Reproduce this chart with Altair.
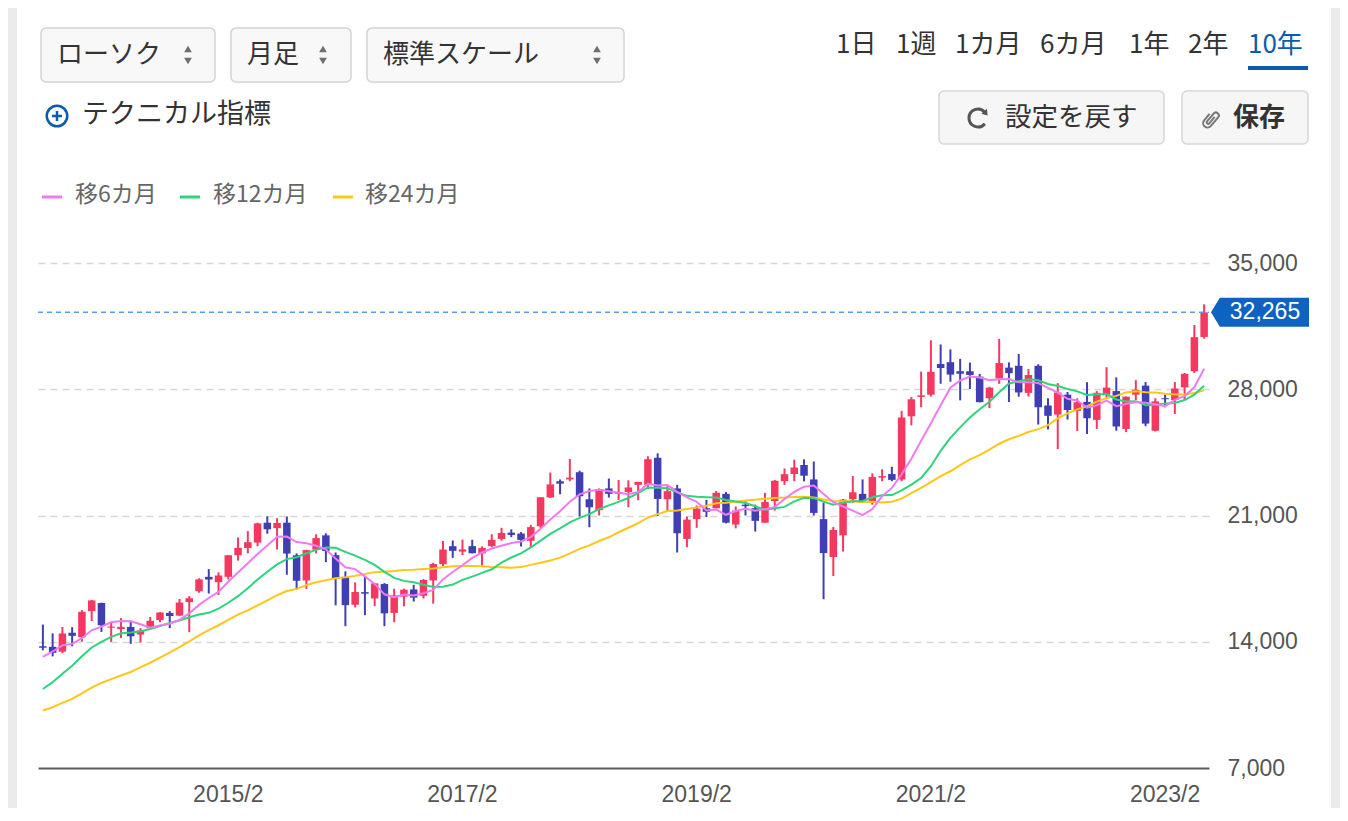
import altair as alt
import pandas as pd

# ---------------- layout (page pixel coordinates) ----------------
PX0, PY0 = 38, 263          # plot origin on the page
W, H = 1171, 505            # plot area

def px(x):
    return x - PX0

def py(y):
    return y - PY0

JP = "Noto Sans CJK JP"
NUM = "Liberation Sans"
UP = "#f5385f"
DOWN = "#3f3fb3"
C6 = "#f07af0"
C12 = "#2fd37c"
C24 = "#ffc61a"

# ---------------- data ----------------
months = []
yy, mm = 2013, 7
for _ in range(120):
    months.append(f"{yy}/{mm}")
    mm += 1
    if mm > 12:
        yy, mm = yy + 1, 1

opens = [
    13750, 13720, 13450, 14500, 14250, 15700,
    16150, 14780, 14700, 14820, 14400, 14750, 15200, 15600, 15450, 16200, 16800, 17600,
    17300, 17600, 18800, 19200, 19500, 20600, 20300, 20600, 18800, 17400, 19100, 19900,
    18800, 17600, 16050, 16750, 16400, 17200, 15600, 16500, 16900, 16550, 17400, 18300,
    19300, 19000, 19300, 18900, 19300, 19700, 20050, 20000, 19600, 20400, 22000, 22900,
    23000, 23400, 21900, 21300, 22500, 22200, 22300, 22700, 22700, 24200, 21900, 22500,
    19700, 20800, 21400, 21400, 22200, 20500, 21600, 21400, 20600, 21800, 22900, 23300,
    23800, 23000, 20800, 18700, 19900, 21900, 22200, 21700, 23100, 23300, 23000, 26500,
    27575, 27700, 29400, 29500, 29000, 29000, 28700, 27500, 28600, 29200, 29300, 27800,
    29300, 27100, 26600, 27700, 26800, 27300, 26300, 27700, 27900, 25800, 27700, 28200,
    25700, 27500, 27400, 28100, 29000, 30900,
]
highs = [
    14953, 14466, 14817, 14808, 15750, 16320,
    16164, 15100, 15312, 15164, 14753, 15376, 15646, 15700, 16374, 16533, 17520, 18030,
    17850, 18800, 19778, 20133, 20600, 20952, 20850, 20946, 18900, 19100, 19959, 20012,
    18951, 17905, 17291, 17613, 17251, 17251, 16938, 16943, 17156, 17477, 18381, 19592,
    19615, 19668, 19656, 19289, 19961, 20318, 20230, 20080, 20481, 22012, 23382, 23000,
    24129, 23486, 22502, 22500, 23050, 22966, 22949, 22869, 24286, 24448, 22698, 22698,
    20941, 21556, 21860, 22362, 22300, 21500, 21784, 21600, 22255, 22974, 23608, 24091,
    24115, 23995, 21719, 20365, 21916, 23185, 23000, 23338, 23564, 23700, 26800, 27568,
    28979, 30714, 30485, 30208, 29685, 29480, 28852, 28140, 30795, 29489, 29960, 29121,
    29388, 27500, 28338, 27850, 27500, 28389, 27900, 29222, 28659, 27600, 28502, 28400,
    27500, 27700, 28400, 28900, 31560, 32708,
]
lows = [
    13527, 13188, 13372, 13748, 14000, 15149,
    14549, 13995, 14203, 13885, 13964, 14700, 15084, 14753, 15436, 14529, 16720, 16672,
    16592, 17451, 18500, 18900, 19300, 19990, 19115, 17714, 16901, 16930, 18900, 18412,
    16017, 14865, 15900, 15471, 15975, 14864, 15085, 15966, 16227, 16400, 16111, 18200,
    18650, 18805, 18900, 18224, 19249, 19600, 19800, 19280, 19239, 20300, 21972, 22177,
    22900, 20950, 20347, 21000, 22000, 21859, 21462, 21851, 22467, 20971, 21243, 18948,
    19241, 20315, 20911, 21400, 20562, 20289, 21000, 20110, 20600, 21276, 22700, 22900,
    22892, 21000, 16358, 17646, 19000, 21700, 21700, 21600, 22900, 22900, 22900, 26000,
    27000, 27600, 28308, 28419, 27385, 28010, 27272, 26954, 28300, 27293, 27588, 27600,
    26044, 25775, 24681, 26319, 25688, 25520, 25800, 27500, 25700, 25622, 27400, 25950,
    25661, 27000, 26632, 27400, 28900, 30800,
]
closes = [
    13668, 13389, 14456, 14328, 15662, 16291,
    14915, 14841, 14828, 14304, 14632, 15162, 15621, 15425, 16174, 16414, 17460, 17451,
    17674, 18798, 19207, 19520, 20563, 20236, 20585, 18890, 17388, 19083, 19747, 19034,
    17518, 16027, 16759, 16666, 17235, 15576, 16569, 16887, 16450, 17425, 18308, 19114,
    19041, 19119, 18909, 19197, 19651, 20033, 19925, 19646, 20356, 22012, 22725, 22765,
    23098, 22068, 21454, 22468, 22202, 22305, 22554, 22865, 24120, 21920, 22351, 20015,
    20773, 21385, 21206, 22259, 20601, 21276, 21522, 20704, 21756, 22927, 23294, 23657,
    23205, 21143, 18917, 20194, 21878, 22288, 21710, 23140, 23185, 22977, 26434, 27444,
    27663, 28966, 29179, 28813, 28860, 28792, 27284, 28090, 29453, 28893, 27822, 28792,
    27002, 26527, 27821, 26848, 27280, 26393, 27802, 28092, 25937, 27587, 27969, 26095,
    27327, 27446, 28041, 28856, 30888, 32265,
]

# closes of the 23 months before the first candle (needed by the moving averages)
pre_months = ["2011/8", "2011/9", "2011/10", "2011/11", "2011/12",
              "2012/1", "2012/2", "2012/3", "2012/4", "2012/5", "2012/6",
              "2012/7", "2012/8", "2012/9", "2012/10", "2012/11", "2012/12",
              "2013/1", "2013/2", "2013/3", "2013/4", "2013/5", "2013/6"]
pre_closes = [8955, 8700, 8988, 8435, 8455,
              8802, 9723, 10083, 9520, 8542, 9006,
              8695, 8839, 8870, 8928, 9446, 10395,
              11138, 11559, 12397, 13861, 13774, 13677]

x_labels = ["2015/2", "2017/2", "2019/2", "2021/2", "2023/2"]
y_ticks = [7000, 14000, 21000, 28000, 35000]
last_price = [32265]
last_label = ["32,265"]

legend_names = ["移6カ月", "移12カ月", "移24カ月"]
tab_names = ["1日", "1週", "1カ月", "6カ月", "1年", "2年", "10年"]

cdf = pd.DataFrame({"month": months, "open": opens, "high": highs,
                    "low": lows, "close": closes})
madf = pd.DataFrame({"seq": list(range(len(pre_closes) + len(closes))),
                     "month": pre_months + months,
                     "close": pre_closes + closes})
pdf = pd.DataFrame({"price": last_price, "label": last_label})
one = pd.DataFrame({"k": [0]})

# ---------------- encodings ----------------
X = alt.X("month:O", title=None,
          scale=alt.Scale(domain=months, paddingInner=0, paddingOuter=0),
          axis=alt.Axis(values=x_labels, labelAngle=0, ticks=False, grid=False,
                        domainColor="#5c5c5c", domainWidth=2,
                        labelFont=NUM, labelFontSize=23, labelColor="#555555",
                        labelPadding=15))


def Y(field):
    return alt.Y(f"{field}:Q", title=None,
                 scale=alt.Scale(domain=[7000, 35000], nice=False, zero=False),
                 axis=alt.Axis(orient="right", values=y_ticks,
                               labelExpr="format(datum.value, ',')",
                               ticks=False, domain=False, grid=True,
                               gridDash=[7, 5], gridColor="#d6d6d6", gridWidth=1.5,
                               gridOpacity=alt.condition("datum.value <= 7000",
                                                         alt.value(0), alt.value(1)),
                               labelFont=NUM, labelFontSize=23, labelColor="#555555",
                               labelAlign="left", labelBaseline="middle",
                               labelPadding=18))


updown = alt.condition("datum.close >= datum.open", alt.value(UP), alt.value(DOWN))

wicks = alt.Chart(cdf).mark_rule(strokeWidth=2).encode(
    x=X, y=Y("low"), y2="high", color=updown)
bodies = alt.Chart(cdf).mark_bar(width=7.5).encode(
    x=X, y=Y("open"), y2="close", color=updown)

ma_base = (alt.Chart(madf)
           .transform_window(ma6="mean(close)", frame=[-5, 0], sort=[alt.SortField("seq")])
           .transform_window(ma12="mean(close)", frame=[-11, 0], sort=[alt.SortField("seq")])
           .transform_window(ma24="mean(close)", frame=[-23, 0], sort=[alt.SortField("seq")])
           .transform_filter("datum.seq >= 23"))
ma24 = ma_base.mark_line(color=C24, strokeWidth=2).encode(x=X, y=Y("ma24"))
ma12 = ma_base.mark_line(color=C12, strokeWidth=2).encode(x=X, y=Y("ma12"))
ma6 = ma_base.mark_line(color=C6, strokeWidth=2).encode(x=X, y=Y("ma6"))

price_rule = alt.Chart(pdf).mark_rule(color="#5c9fe6", strokeDash=[5, 4], strokeWidth=1.5).encode(
    y=Y("price"), x=alt.value(0), x2=alt.value(W))
BOX = "M-1,0L-0.82,-0.296L1,-0.296L1,0.296L-0.82,0.296Z"
price_box = alt.Chart(pdf).mark_point(shape=BOX, size=9604, filled=True, color="#0d62c2",
                                      opacity=1, strokeWidth=0).encode(
    y=Y("price"), x=alt.value(px(1260)))
price_text = alt.Chart(pdf).mark_text(font=NUM, fontSize=23, color="white", align="center",
                                      baseline="middle").encode(
    y=Y("price"), x=alt.value(px(1265)), text="label:N")


# ---------------- page decorations ----------------
def rect(x1, y1, x2, y2, fill, stroke=None, r=0, sw=1.0):
    kw = dict(fill=fill, cornerRadius=r)
    if stroke:
        kw.update(stroke=stroke, strokeWidth=sw)
    else:
        kw.update(strokeWidth=0)
    return alt.Chart(one).mark_rect(**kw).encode(
        x=alt.value(px(x1)), x2=alt.value(px(x2)),
        y=alt.value(py(y1)), y2=alt.value(py(y2)))


def text(s, x, y, size, color, align="left", weight="normal", font=JP):
    return alt.Chart(one).mark_text(text=s, align=align, baseline="middle", fontSize=size,
                                    color=color, font=font, fontWeight=weight).encode(
        x=alt.value(px(x)), y=alt.value(py(y)))


def symbol(shape, x, y, size, color, filled=True, sw=1.0, angle=0):
    kw = dict(shape=shape, size=size, opacity=1, angle=angle)
    if filled:
        kw.update(filled=True, color=color, strokeWidth=0)
    else:
        kw.update(filled=False, stroke=color, strokeWidth=sw, fill=None)
    return alt.Chart(one).mark_point(**kw).encode(x=alt.value(px(x)), y=alt.value(py(y)))


def hline(x1, x2, y, color, sw):
    return alt.Chart(one).mark_rule(color=color, strokeWidth=sw).encode(
        x=alt.value(px(x1)), x2=alt.value(px(x2)), y=alt.value(py(y)))


deco = []
# grey page strips on both sides of the white card
deco.append(rect(0, 0, 17, 830, "#ebebeb"))
deco.append(rect(1331, 0, 1348, 830, "#ebebeb"))

# dropdown boxes
for (x1, x2, label, ax) in [(41, 215, "ローソク", 188), (231, 351, "月足", 323),
                            (367, 624, "標準スケール", 597)]:
    deco.append(rect(x1, 28, x2, 82, "#f8f8f8", "#d3d3d3", 5, 1.5))
    deco.append(text(label, x1 + 16, 55, 26, "#333333"))
    deco.append(symbol("triangle-up", ax, 49, 60, "#6e6e6e"))
    deco.append(symbol("triangle-down", ax, 61, 60, "#6e6e6e"))

# technical indicator link
deco.append(symbol("circle", 57, 116, 420, "#0b5cad", filled=False, sw=2.5))
deco.append(symbol("M-1,0L1,0M0,-1L0,1", 57, 116, 100, "#0b5cad", filled=False, sw=2.5))
deco.append(text("テクニカル指標", 82, 115, 27, "#333333"))

# period tabs
tab_x = [836, 896, 955, 1040, 1129, 1188, 1248]
for name, tx in zip(tab_names, tab_x):
    col = "#0b5cad" if name == "10年" else "#333333"
    deco.append(text(name, tx, 45, 26, col))
deco.append(rect(1248, 66, 1308, 70, "#0b5cad"))

# buttons
deco.append(rect(939, 91, 1164, 144, "#f6f6f6", "#d6d6d6", 5, 1.5))
deco.append(rect(1182, 91, 1308, 144, "#f6f6f6", "#d6d6d6", 5, 1.5))
deco.append(symbol("M0.61,-0.51A0.8,0.8,0,1,0,0.61,0.51", 978, 118, 500, "#555555",
                   filled=False, sw=3))
deco.append(symbol("M0.86,-0.22L0.80,-0.82L0.30,-0.38Z", 978, 118, 500, "#555555"))
deco.append(text("設定を戻す", 1005, 118, 26.5, "#333333"))
deco.append(symbol("M0.15,-0.4L0.15,0.45A0.15,0.15,0,0,1,-0.15,0.45L-0.15,-0.6"
                   "A0.3,0.3,0,0,1,0.45,-0.6L0.45,0.55A0.45,0.45,0,0,1,-0.45,0.55L-0.45,-0.3",
                   1211, 119, 380, "#777777", filled=False, sw=2, angle=40))
deco.append(text("保存", 1233, 118, 26, "#333333", weight="bold"))

# moving-average legend
for (lx, tx, name, col) in [(42, 75, legend_names[0], C6), (180, 213, legend_names[1], C12),
                            (333, 365, legend_names[2], C24)]:
    deco.append(hline(lx, lx + 20, 197, col, 3))
    deco.append(text(name, tx, 195, 23, "#666666"))

layers = deco + [wicks, bodies, ma24, ma12, ma6, price_rule, price_box, price_text]

chart = alt.layer(*layers).properties(
    width=W, height=H,
    autosize=alt.AutoSizeParams(type="none"),
    padding={"left": PX0 - 8, "top": PY0 - 8, "right": 1332 - (PX0 - 8) - W, "bottom": 40},
    background="white",
).configure_view(stroke=None)

chart.save("out.html", embed_options={"renderer": "svg", "actions": False})
